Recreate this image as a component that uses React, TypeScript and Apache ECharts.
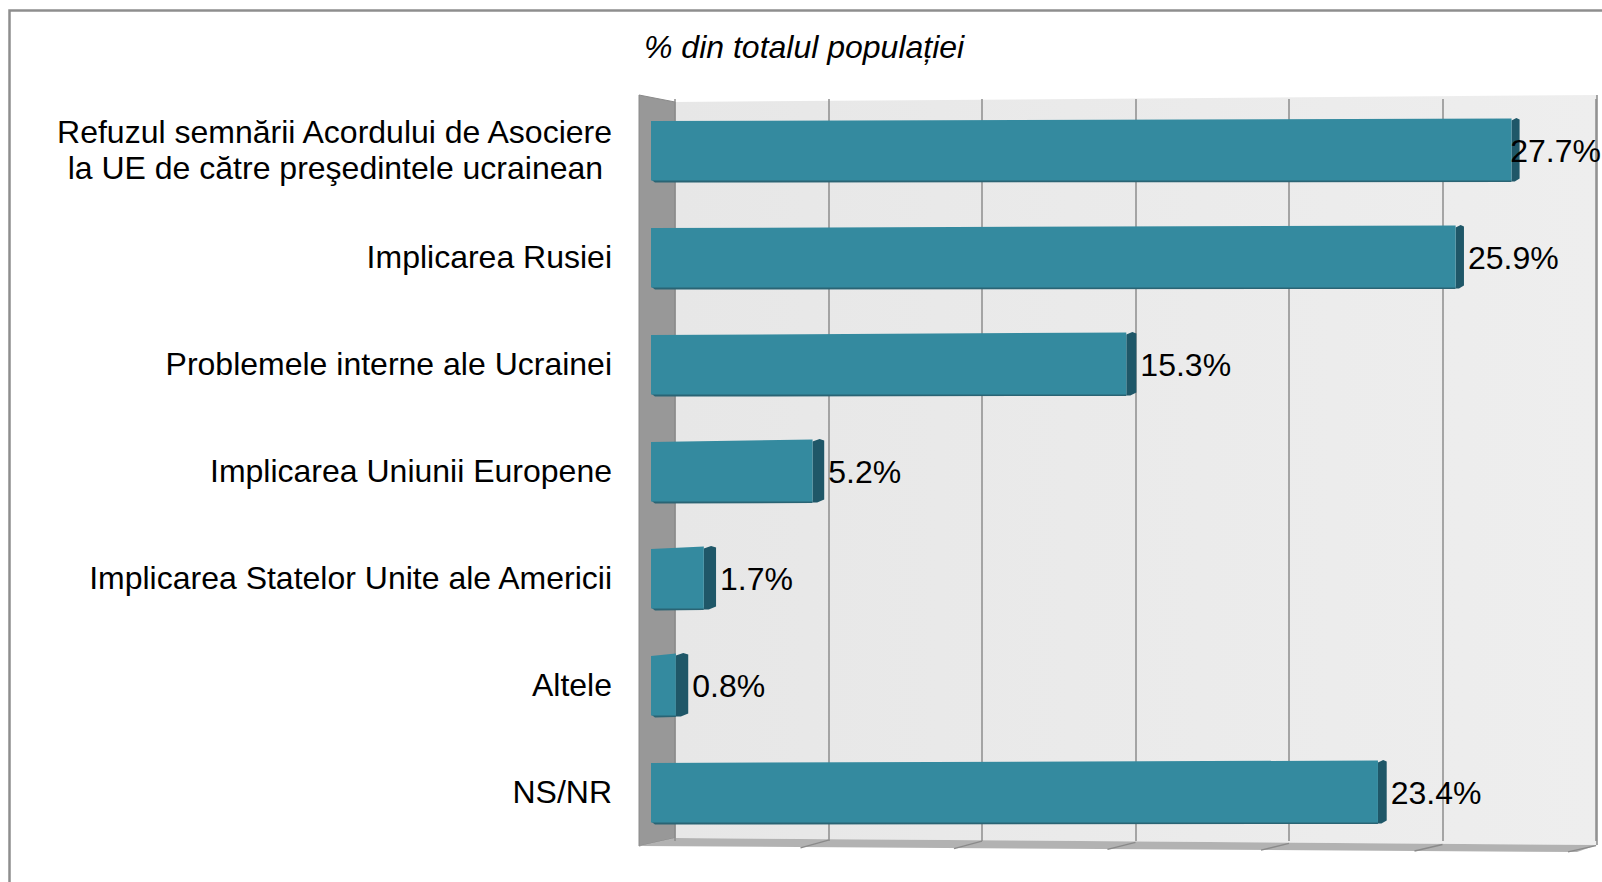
import React, { useEffect, useRef } from "react";
import * as echarts from "echarts";

const categories = [
  "Refuzul semnării Acordului de Asociere\nla UE de către preşedintele ucrainean\u00a0",
  "Implicarea Rusiei",
  "Problemele interne ale Ucrainei",
  "Implicarea Uniunii Europene",
  "Implicarea Statelor Unite ale Americii",
  "Altele",
  "NS/NR",
];
const values = [27.7, 25.9, 15.3, 5.2, 1.7, 0.8, 23.4];
const axisMin = 0;
const axisMax = 30;
const axisInterval = 5;
const titleText = "% din totalul populației";

const FONT = '"Liberation Sans", Arial, sans-serif';
const FS = 32;
const W = 1602;
const H = 882;

export default function App() {
  const ref = useRef<HTMLDivElement>(null);
  useEffect(() => {
    if (!ref.current) return;
    const chart = echarts.init(ref.current, null, { renderer: "svg" });
    const canvas = document.createElement("canvas");
    const ctx = canvas.getContext("2d")!;
    ctx.font = FS + "px " + FONT;

    const frontTicks: any[] = [];
    for (let k = 1; k <= 6; k++) {
      const bx = 675 + k * 153.5;
      frontTicks.push({
        type: "line",
        z: 1,
        shape: { x1: bx, y1: 839 + k * 1.1, x2: bx - 28, y2: 847 + k * 0.8 },
        style: { stroke: "#8a8a8a", lineWidth: 1.3 },
      });
    }

    chart.setOption({
      animation: false,
      backgroundColor: "#ffffff",
      title: {
        text: titleText,
        left: 639,
        top: 24,
        textStyle: {
          fontFamily: FONT,
          fontSize: FS,
          fontStyle: "italic",
          fontWeight: "normal",
          color: "#000",
          lineHeight: 36,
        },
      },
      graphic: [
        {
          type: "rect",
          z: 0,
          shape: { x: 9.5, y: 10.5, width: 1700, height: 1000 },
          style: { fill: "none", stroke: "#8e8e8e", lineWidth: 2.5 },
        },
        {
          type: "polygon",
          z: 0,
          shape: { points: [[675, 102], [1597, 95], [1597, 845], [675, 838]] },
          style: {
            fill: new echarts.graphic.LinearGradient(0, 0, 1, 0, [
              { offset: 0, color: "#e7e7e7" },
              { offset: 1, color: "#eeeeee" },
            ]),
          },
        },
        {
          type: "polygon",
          z: 1,
          shape: { points: [[639, 95], [675, 102], [675, 838], [639, 846]] },
          style: { fill: "#989898", stroke: "#8a8a8a", lineWidth: 1 },
        },
        {
          type: "polygon",
          z: 1,
          shape: { points: [[639, 846], [675, 838], [1597, 845], [1577, 852]] },
          style: { fill: "#b2b2b2" },
        },
        {
          type: "line",
          z: 1,
          shape: { x1: 1597, y1: 95, x2: 1597, y2: 845 },
          style: { stroke: "#8a8a8a", lineWidth: 1.5 },
        },
        ...frontTicks,
      ],
      grid: [
        { left: 651, right: W - 1583, top: 96.5, height: 749, show: false },
        { left: 675, right: W - 1596, top: 99, bottom: 41, show: false },
      ],
      xAxis: [
        {
          gridIndex: 0,
          type: "value",
          min: axisMin,
          max: axisMax,
          interval: axisInterval,
          show: false,
        },
        {
          gridIndex: 1,
          type: "value",
          min: axisMin,
          max: axisMax,
          interval: axisInterval,
          axisLine: { show: false },
          axisTick: { show: false },
          axisLabel: { show: false },
          splitLine: { show: true, lineStyle: { color: "#8c8c8c", width: 1.5 } },
          z: 1,
        },
      ],
      yAxis: [
        {
          gridIndex: 0,
          type: "category",
          data: categories,
          inverse: true,
          axisLine: { show: false },
          axisTick: { show: false },
          splitLine: { show: false },
          axisLabel: {
            margin: 39,
            fontFamily: FONT,
            fontSize: FS,
            color: "#000",
            lineHeight: 36,
            align: "right",
          },
        },
        {
          gridIndex: 1,
          type: "value",
          show: false,
        },
      ],
      series: [
        {
          type: "custom",
          xAxisIndex: 0,
          yAxisIndex: 0,
          clip: false,
          z: 3,
          data: values.map((v, i) => [v, i]),
          encode: { x: 0, y: 1 },
          renderItem: (params: any, api: any) => {
            const v = api.value(0);
            const cat = api.value(1);
            const p0 = api.coord([axisMin, cat]);
            const p1 = api.coord([v, cat]);
            const h = api.size([0, 1])[1] * 0.57;
            const x0 = p0[0];
            const x1 = p1[0];
            const yT = p0[1] - h / 2;
            const yB = p0[1] + h / 2;
            const sw = 12.5 - (4.5 * (x1 - x0)) / 870;
            const label = v.toFixed(1) + "%";
            const tw = ctx.measureText(label).width;
            const lx = Math.min(x1 + sw + 4, W - tw - 1);
            return {
              type: "group",
              children: [
                {
                  type: "polygon",
                  shape: {
                    points: [
                      [x1, yT + 1],
                      [x1 + sw * 0.6, yT - 1.5],
                      [x1 + sw, yT],
                      [x1 + sw, yB - 2],
                      [x1 + sw * 0.4, yB + 1],
                      [x1, yB + 1],
                    ],
                  },
                  style: { fill: "#1f5768" },
                },
                {
                  type: "polygon",
                  shape: {
                    points: [
                      [x0, yB - 1],
                      [x1, yB - 1],
                      [x1, yB + 1.5],
                      [x0 + 4, yB + 2],
                    ],
                  },
                  style: { fill: "#2a6474" },
                },
                {
                  type: "polygon",
                  shape: {
                    points: [
                      [x0, yT + 1.5],
                      [x1, yT - 1],
                      [x1, yB],
                      [x0, yB],
                    ],
                  },
                  style: { fill: "#348a9f" },
                },
                {
                  type: "text",
                  style: {
                    text: label,
                    x: lx,
                    y: p0[1] + 1,
                    fill: "#000",
                    fontSize: FS,
                    fontFamily: FONT,
                    align: "left",
                    verticalAlign: "middle",
                  },
                },
              ],
            };
          },
        },
      ],
    });
    return () => chart.dispose();
  }, []);
  return (
    <div
      ref={ref}
      style={{ position: "absolute", left: 0, top: 0, width: W, height: H }}
    />
  );
}
